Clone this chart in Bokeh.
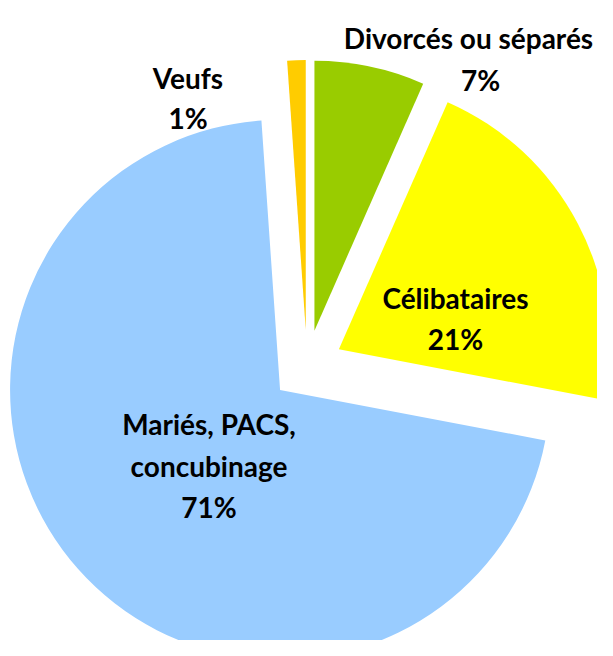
import math
from bokeh.plotting import figure
from bokeh.models import Range1d, ColumnDataSource
from bokeh.core.properties import value
from bokeh.embed import file_html
from bokeh.resources import INLINE

# ---- data (clockwise from 12 o'clock) ----
categories = ["Divorcés ou séparés", "Célibataires", "Mariés, PACS, concubinage", "Veufs"]
shares = [6.6, 21.4, 70.9, 1.1]
pct_labels = ["7%", "21%", "71%", "1%"]
colors = ["#99CC00", "#FFFF00", "#99CCFF", "#FFCC00"]

# ---- layout (screen-like pixel coordinates) ----
H = 656
FIG_W, FIG_H = 597, 640
CX, CY = 306.5, 365.5     # pie centre (screen px)
R = 270                   # radius px
EXPLODE = 36              # explosion offset px

# label lines: (text, x, baseline_y) in screen px
label_lines = [
    ("Divorcés ou séparés", 468, 37),
    (pct_labels[0], 480, 79),
    ("Célibataires", 455, 297),
    (pct_labels[1], 455, 338),
    ("Mariés, PACS,", 208.5, 423),
    ("concubinage", 208.5, 465),
    (pct_labels[2], 208.5, 506),
    ("Veufs", 187.5, 77),
    (pct_labels[3], 187.5, 117),
]

total = sum(shares)
xs, ys, starts, ends = [], [], [], []
cum = 0.0
for s in shares:
    a = cum / total
    b = (cum + s) / total
    cum += s
    st = math.pi / 2 - 2 * math.pi * b
    en = math.pi / 2 - 2 * math.pi * a
    mid = (st + en) / 2
    xs.append(CX + EXPLODE * math.cos(mid))
    ys.append((H - CY) + EXPLODE * math.sin(mid))
    starts.append(st)
    ends.append(en)

src = ColumnDataSource(dict(x=xs, y=ys, start=starts, end=ends, color=colors, cat=categories))

p = figure(width=FIG_W, height=FIG_H, output_backend="svg", toolbar_location=None,
           x_range=Range1d(0, FIG_W), y_range=Range1d(H - FIG_H, H), min_border=0)
p.axis.visible = False
p.grid.visible = False
p.outline_line_color = None
p.background_fill_color = "white"
p.border_fill_color = "white"

p.wedge(x="x", y="y", radius=R, start_angle="start", end_angle="end",
        direction="anticlock", fill_color="color", line_color=None, source=src)

lsrc = ColumnDataSource(dict(
    x=[l[1] for l in label_lines],
    y=[H - l[2] for l in label_lines],
    text=[l[0] for l in label_lines],
))
p.text(x="x", y="y", text="text", source=lsrc, text_align="center",
       text_baseline="alphabetic", text_font=value("Lato"), text_font_style="bold",
       text_font_size="28px", text_color="black")

open("out.html", "w").write(file_html(p, INLINE))
